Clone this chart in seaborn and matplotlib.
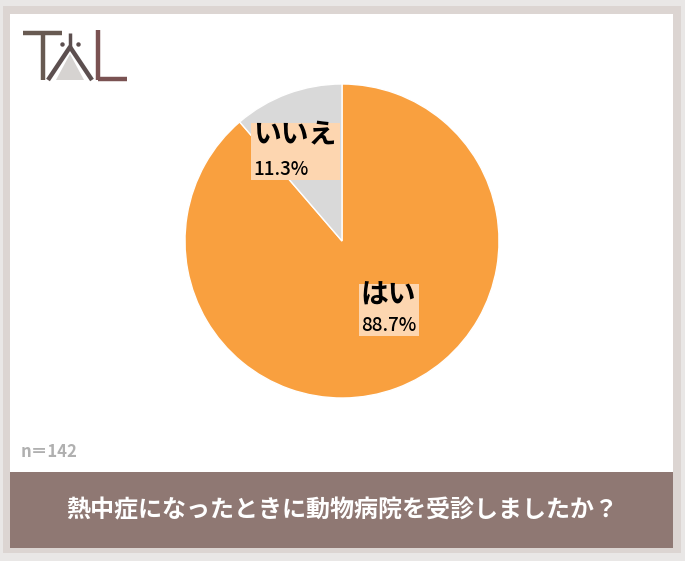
"""
Pie chart: 熱中症になったときに動物病院を受診しましたか？ (n=142)
"""
import matplotlib
matplotlib.use("Agg")
import matplotlib.pyplot as plt
import seaborn as sns
from matplotlib.patches import Rectangle, Polygon
from matplotlib.lines import Line2D
from matplotlib.transforms import Bbox

# Data
labels = ["はい", "いいえ"]
values = [88.7, 11.3]
colors = ["#f9a03f", "#d9d9d9"]
title = "熱中症になったときに動物病院を受診しましたか？"
note = "n＝142"

sns.set_style("white")
plt.rcParams["font.family"] = ["Noto Sans CJK JP", "DejaVu Sans"]

W, H = 685, 561
fig = plt.figure(figsize=(W / 100, H / 100), dpi=100)
fig.patch.set_facecolor("#e9e7e6")


def fx(x):
    return x / W


def fy(y):
    return 1 - y / H


def frect(x0, y0, x1, y1, color):
    fig.patches.append(Rectangle((fx(x0), fy(y1)), fx(x1 - x0), (y1 - y0) / H,
                                 transform=fig.transFigure, facecolor=color,
                                 edgecolor="none", zorder=0))


# frame, white panel and title band
frect(3, 6, 681, 553, "#dcd5d2")
frect(10, 14, 673, 472, "white")
frect(10, 472, 673, 548, "#8f7873")

# simple TAL logo
def fline(xs, ys, color, lw=3.2):
    fig.lines.append(Line2D([fx(x) for x in xs], [fy(y) for y in ys],
                            transform=fig.transFigure, color=color,
                            linewidth=lw, solid_capstyle="butt", zorder=2))

fig.patches.append(Polygon([(fx(56), fy(80)), (fx(70), fy(54)), (fx(84), fy(80))],
                           closed=True, transform=fig.transFigure,
                           facecolor="#d6d3d1", edgecolor="none", zorder=1))
fline([23, 62], [33, 33], "#685a52")
fline([43, 43], [33, 80], "#685a52")
fline([48, 68, 70, 72, 92], [80, 50, 47, 50, 80], "#5c4f4f")
fline([70, 70], [33, 47], "#5c4f4f", lw=2.5)
fline([98, 98], [30, 80], "#7a5252")
fline([98, 127], [79, 79], "#7a5252")
fig.lines.append(Line2D([fx(62), fx(78)], [fy(44), fy(44)], transform=fig.transFigure,
                        linestyle="none", marker="o", markersize=2.2,
                        color="#5c4f4f", zorder=2))

# pie
cx, cy, r = 342, 241, 157
ax = fig.add_axes([fx(cx - r), fy(cy + r), 2 * r / W, 2 * r / H])
ax.set_zorder(5)
ax.patch.set_visible(False)
ax.pie(values, colors=colors, startangle=90, counterclock=False,
       wedgeprops=dict(linewidth=1, edgecolor="white"))
ax.set_xlim(-1, 1)
ax.set_ylim(-1, 1)
ax.set_aspect("auto")
ax.axis("off")

# (x, top of name, top of percentage) in pie units
label_pos = {"はい": (0.12, -0.26, -0.475), "いいえ": (-0.565, 0.765, 0.515)}
label_texts = []
for lab, val in zip(labels, values):
    x, y1, y2 = label_pos[lab]
    t1 = ax.text(x, y1, lab, fontsize=20, fontweight="bold", color="black",
                 ha="left", va="top", zorder=4)
    t2 = ax.text(x, y2, f"{val:.1f}%", fontsize=13.5, fontweight="medium", color="black",
                 ha="left", va="top", zorder=4)
    label_texts.append((t1, t2))

# one peach box behind each label pair
fig.canvas.draw()
inv = ax.transData.inverted()
for t1, t2 in label_texts:
    bb = Bbox.union([t1.get_window_extent(), t2.get_window_extent()])
    (x0, y0), (x1, y1) = inv.transform([[bb.x0 - 2, bb.y0 - 1], [bb.x1 + 3, bb.y1 - 2]])
    ax.add_patch(Rectangle((x0, y0), x1 - x0, y1 - y0, facecolor="#fdd6b0",
                           edgecolor="none", zorder=3))

fig.text(fx(21), fy(452), note, fontsize=12, fontweight="bold", color="#b0b0b0",
         ha="left", va="center")
fig.text(fx(342), fy(510), title, fontsize=17.3, fontweight="bold", color="white",
         ha="center", va="center")

fig.savefig("out.png", dpi=100)
